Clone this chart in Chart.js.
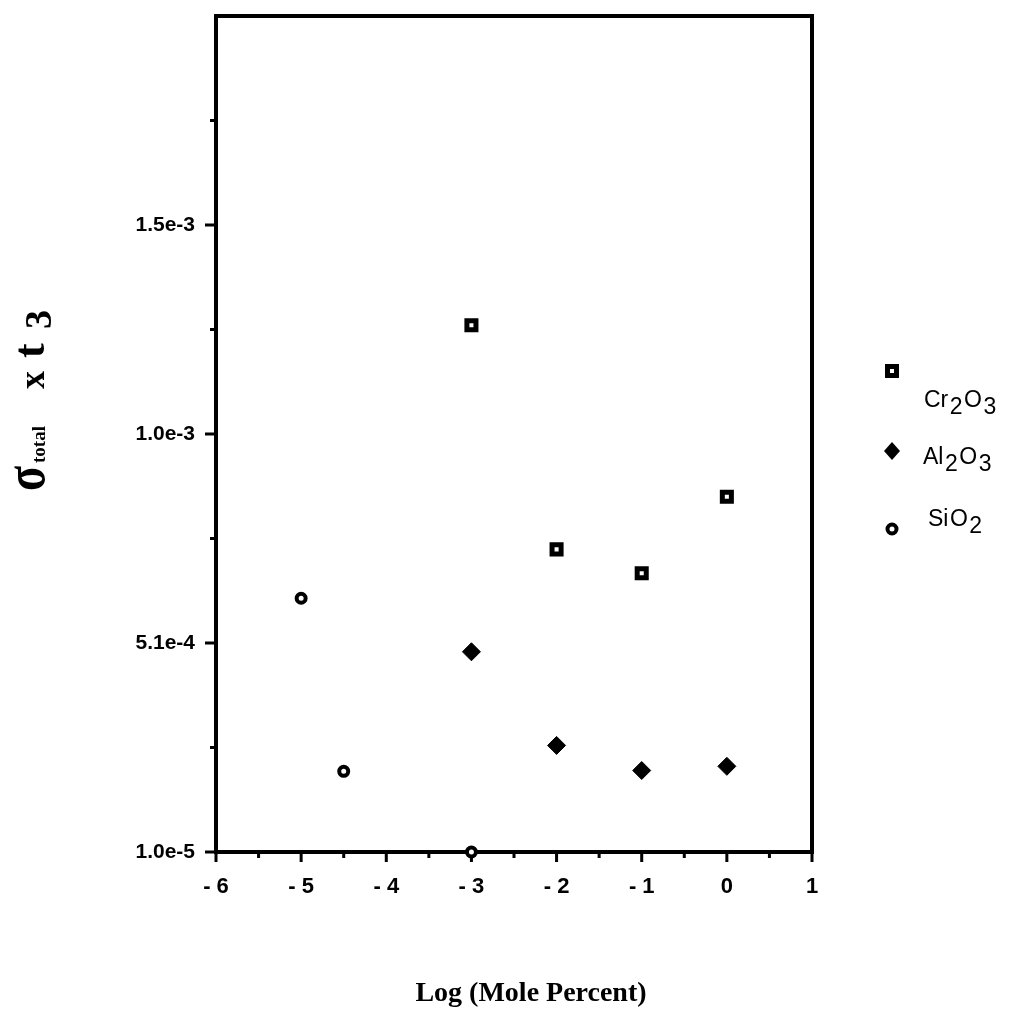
<!DOCTYPE html>
<html>
<head>
<meta charset="utf-8">
<script src="https://cdn.jsdelivr.net/npm/chart.js@4.4.0/dist/chart.umd.min.js"></script>
<style>
  html, body { margin: 0; padding: 0; background: #fff; }
  canvas { display: block; }
</style>
</head>
<body>
<canvas id="chart" width="1010" height="1027"></canvas>
<script>
// data
const crX = [-3, -2, -1, 0];
const crY = [1.27e-3, 7.34e-4, 6.77e-4, 8.6e-4];
const alX = [-3, -2, -1, 0];
const alY = [4.89e-4, 2.65e-4, 2.05e-4, 2.15e-4];
const siX = [-5, -4.5, -3];
const siY = [6.17e-4, 2.03e-4, 1.0e-5];

const xTicks = [-6, -5, -4, -3, -2, -1, 0, 1];
const xTickLabels = ['- 6', '- 5', '- 4', '- 3', '- 2', '- 1', '0', '1'];
const xMinorTicks = [-5.5, -4.5, -3.5, -2.5, -1.5, -0.5, 0.5];
const yTicks = [1.0e-5, 5.1e-4, 1.01e-3, 1.51e-3];
const yTickLabels = ['1.0e-5', '5.1e-4', '1.0e-3', '1.5e-3'];
const yMinorTicks = [2.6e-4, 7.6e-4, 1.26e-3, 1.76e-3];

const legendNames = [
  [['Cr', 0], ['2', 1], ['O', 0], ['3', 1]],
  [['Al', 0], ['2', 1], ['O', 0], ['3', 1]],
  [['Si', 0], ['O', 0], ['2', 1]],
];

function toPoints(xs, ys) {
  return xs.map((x, i) => ({ x, y: ys[i] }));
}

function drawChem(ctx, parts, x, y) {
  let cx = x;
  parts.forEach(([t, sub]) => {
    ctx.fillText(t, cx, y + (sub ? 7 : 0));
    cx += ctx.measureText(t).width + 1.5;
  });
}

const framePlugin = {
  id: 'frame',
  beforeDatasetsDraw(chart) {
    const { ctx, chartArea: a, scales } = chart;
    ctx.save();
    ctx.strokeStyle = '#000';
    ctx.lineWidth = 4;
    ctx.strokeRect(a.left, a.top, a.right - a.left, a.bottom - a.top);

    ctx.lineWidth = 3;
    ctx.beginPath();
    xTicks.forEach(v => {
      const px = scales.x.getPixelForValue(v);
      ctx.moveTo(px, a.bottom);
      ctx.lineTo(px, a.bottom + 10);
    });
    xMinorTicks.forEach(v => {
      const px = scales.x.getPixelForValue(v);
      ctx.moveTo(px, a.bottom);
      ctx.lineTo(px, a.bottom + 6);
    });
    yTicks.forEach(v => {
      const py = scales.y.getPixelForValue(v);
      ctx.moveTo(a.left, py);
      ctx.lineTo(a.left - 11, py);
    });
    yMinorTicks.forEach(v => {
      const py = scales.y.getPixelForValue(v);
      ctx.moveTo(a.left, py);
      ctx.lineTo(a.left - 6, py);
    });
    ctx.stroke();
    ctx.restore();
  },
  afterDraw(chart) {
    const { ctx } = chart;
    ctx.save();
    ctx.fillStyle = '#000';
    ctx.strokeStyle = '#000';

    // x title
    ctx.font = 'bold 28px "Liberation Serif"';
    ctx.textAlign = 'center';
    ctx.textBaseline = 'alphabetic';
    ctx.fillText('Log (Mole Percent)', 531, 1001);

    // y title, rotated
    ctx.save();
    ctx.translate(44, 491);
    ctx.rotate(-Math.PI / 2);
    ctx.textAlign = 'left';
    ctx.save();
    ctx.scale(1, 1.25);
    ctx.font = 'bold 46px "Liberation Serif"';
    ctx.fillText('σ', 0, 0);
    ctx.restore();
    ctx.font = 'bold 19px "Liberation Serif"';
    ctx.fillText('total', 28, 1);
    ctx.font = 'bold 36px "Liberation Serif"';
    ctx.fillText('x', 102, 0);
    ctx.font = 'bold 44px "Liberation Serif"';
    ctx.fillText('t', 133, 0);
    ctx.font = 'bold 38px "Liberation Serif"';
    ctx.fillText('3', 162, 7);
    ctx.restore();

    // legend markers
    ctx.lineWidth = 5;
    ctx.fillStyle = '#fff';
    ctx.fillRect(887.5, 366.5, 9, 9);
    ctx.strokeRect(887.5, 366.5, 9, 9);
    ctx.fillStyle = '#000';
    ctx.beginPath();
    ctx.moveTo(892, 442);
    ctx.lineTo(900, 451);
    ctx.lineTo(892, 460);
    ctx.lineTo(884, 451);
    ctx.closePath();
    ctx.fill();
    ctx.lineWidth = 4;
    ctx.fillStyle = '#fff';
    ctx.beginPath();
    ctx.arc(892, 529, 4.5, 0, Math.PI * 2);
    ctx.fill();
    ctx.stroke();

    // legend text
    ctx.fillStyle = '#000';
    ctx.textAlign = 'left';
    ctx.font = '23px "Liberation Sans"';
    drawChem(ctx, legendNames[0], 924, 407);
    drawChem(ctx, legendNames[1], 923, 464);
    drawChem(ctx, legendNames[2], 928, 526);
    ctx.restore();
  },
};

new Chart(document.getElementById('chart'), {
  type: 'scatter',
  data: {
    datasets: [
      {
        label: 'Cr2O3',
        data: toPoints(crX, crY),
        pointStyle: 'rect',
        pointRadius: 6.4,
        borderWidth: 5,
        borderColor: '#000',
        backgroundColor: '#fff',
        clip: false,
      },
      {
        label: 'Al2O3',
        data: toPoints(alX, alY),
        pointStyle: 'rectRot',
        pointRadius: 9,
        borderWidth: 1,
        borderColor: '#000',
        backgroundColor: '#000',
        clip: false,
      },
      {
        label: 'SiO2',
        data: toPoints(siX, siY),
        pointStyle: 'circle',
        pointRadius: 4.5,
        borderWidth: 4,
        borderColor: '#000',
        backgroundColor: '#fff',
        clip: false,
      },
    ],
  },
  options: {
    responsive: false,
    animation: false,
    events: [],
    layout: { autoPadding: false, padding: { top: 16, right: 198, left: 0, bottom: 0 } },
    plugins: { legend: { display: false }, tooltip: { enabled: false } },
    scales: {
      x: {
        type: 'linear',
        min: -6,
        max: 1,
        afterBuildTicks: scale => { scale.ticks = xTicks.map(v => ({ value: v })); },
        afterFit: scale => {
          scale.height = 175;
          scale.paddingLeft = 0;
          scale.paddingRight = 0;
        },
        grid: { display: false, drawTicks: false },
        border: { display: false },
        ticks: {
          autoSkip: false,
          maxRotation: 0,
          padding: 22,
          color: '#000',
          font: { family: 'Liberation Sans', weight: 'bold', size: 22 },
          callback: (v, i) => xTickLabels[i],
        },
      },
      y: {
        type: 'linear',
        min: 1.0e-5,
        max: 2.01e-3,
        afterBuildTicks: scale => { scale.ticks = yTicks.map(v => ({ value: v })); },
        afterFit: scale => {
          scale.width = 216;
          scale.paddingTop = 0;
          scale.paddingBottom = 0;
        },
        grid: { display: false, drawTicks: false },
        border: { display: false },
        ticks: {
          autoSkip: false,
          padding: 21,
          color: '#000',
          font: { family: 'Liberation Sans', weight: 'bold', size: 21 },
          callback: (v, i) => yTickLabels[i],
        },
      },
    },
  },
  plugins: [framePlugin],
});
</script>
</body>
</html>
